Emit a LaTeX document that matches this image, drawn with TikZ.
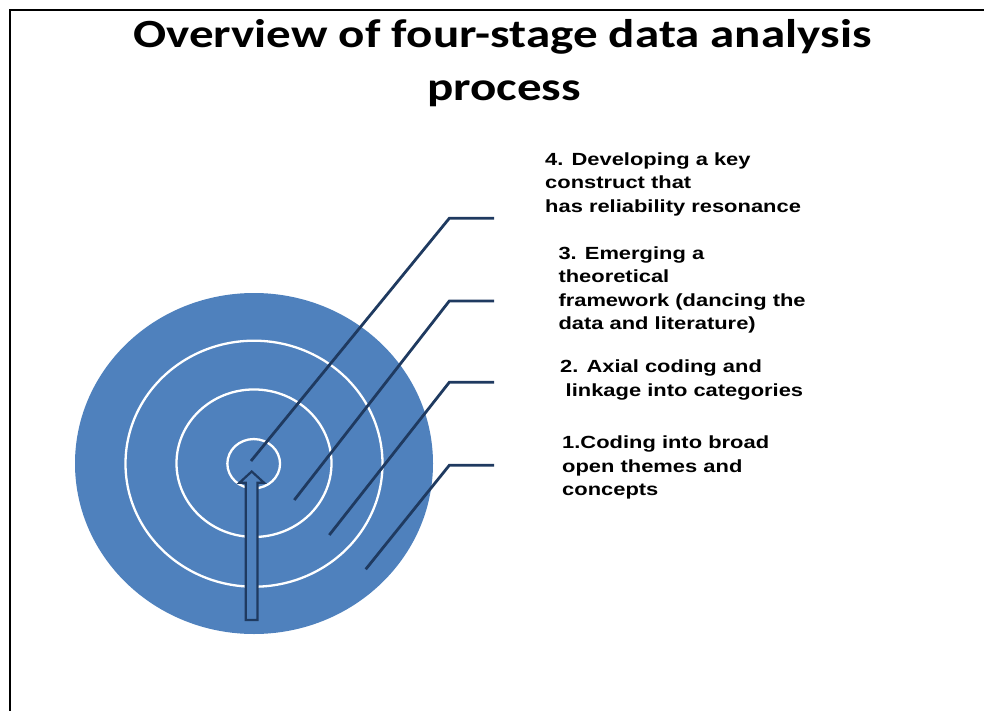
\documentclass[tikz,border=0pt]{standalone}
\usepackage{fontspec}
\setmainfont{Liberation Sans}
\newfontfamily\labelfont[FakeStretch=1.245]{Liberation Sans}
\newfontfamily\titlefont[FakeStretch=1.225]{Carlito}
\usetikzlibrary{shapes.geometric}
\definecolor{ringblue}{HTML}{4F81BD}
\definecolor{navy}{HTML}{1F3A60}
\tikzset{
  ring/.style={ellipse, draw=white, line width=2.3pt, inner sep=0pt, fill=none},
  leader/.style={draw=navy, line width=2.8pt},
  label/.style={inner sep=0pt, anchor=base west, font=\labelfont\bfseries\fontsize{17.6}{23.5}\selectfont},
  titlestyle/.style={inner sep=0pt, anchor=base, font=\titlefont\bfseries\fontsize{40}{56}\selectfont}
}
\newcommand{\lines}[1]{\renewcommand{\arraystretch}{1}\begin{tabular}[t]{@{}l@{}}#1\end{tabular}}
\begin{document}
\begin{tikzpicture}[x=1pt,y=-1pt]
\useasboundingbox (0,0) rectangle (984,711);
% frame
\draw[line width=2pt] (10,711) -- (10,10) -- (984,10);
% title
\node[titlestyle] (t1) at (502.5,48) {Overview of four-stage data analysis};
\node[titlestyle] (t2) at (504,101) {process};
% target
\node[ellipse, fill=ringblue, inner sep=0pt, minimum width=358pt, minimum height=341pt] (outer) at (254,463.5) {};
\node[ring, minimum width=257pt, minimum height=246pt] (r2) at (254,463.7) {};
\node[ring, minimum width=155pt, minimum height=147.5pt] (r3) at (254,463.2) {};
\node[ring, minimum width=52.7pt, minimum height=49.3pt] (r4) at (253.7,463.7) {};
% arrow
\draw[fill=ringblue, draw=navy, line width=2.2pt, line join=miter]
  (245.8,620) -- (245.8,482.7) -- (239.5,482.7) -- (251.7,471.5) -- (264,482.7) -- (257.4,482.7) -- (257.4,620) -- cycle;
% leader lines
\coordinate (p4) at (251,461);  \coordinate (c4) at (449.3,218.3); \coordinate (e4) at (494,218.3);
\coordinate (p3) at (294.3,500); \coordinate (c3) at (449.3,301);  \coordinate (e3) at (494,301);
\coordinate (p2) at (329.3,535); \coordinate (c2) at (449.3,382.3); \coordinate (e2) at (494,382.3);
\coordinate (p1) at (365.7,569.3); \coordinate (c1) at (449.3,465.3); \coordinate (e1) at (494,465.3);
\draw[leader] (p4) -- (c4) -- (e4);
\draw[leader] (p3) -- (c3) -- (e3);
\draw[leader] (p2) -- (c2) -- (e2);
\draw[leader] (p1) -- (c1) -- (e1);
% labels
\node[label] (l4) at (545,165.5) {\lines{4. Developing a key\\construct that\\has reliability resonance}};
\node[label] (l3) at (558.3,259) {\lines{3. Emerging a\\theoretical\\framework (dancing the\\data and literature)}};
\node[label] (l2) at (560,372.5) {\lines{2. Axial coding and\\\hspace{5.5pt}linkage into categories}};
\node[label] (l1) at (562,448.5) {\lines{1.Coding into broad\\open themes and\\concepts}};
\end{tikzpicture}
\end{document}
